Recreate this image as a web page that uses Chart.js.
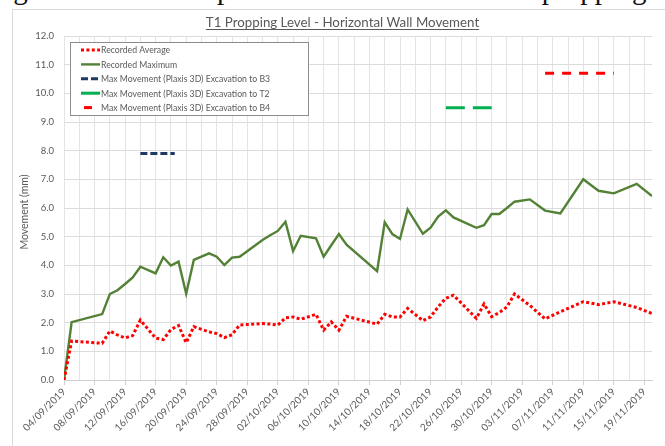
<!DOCTYPE html>
<html><head><meta charset="utf-8">
<script src="https://cdn.jsdelivr.net/npm/chart.js@4.4.0/dist/chart.umd.min.js"></script>
<style>
html,body{margin:0;padding:0;background:#fff;overflow:hidden;}
#wrap{position:relative;width:665px;height:446px;overflow:hidden;background:#fff;}
#cap{position:absolute;left:-11px;top:-27px;font:29px 'Liberation Serif',serif;white-space:nowrap;color:#111;}
#frame{position:absolute;left:12px;top:9px;width:700px;height:500px;border:1px solid #d9d9d9;}
canvas{position:absolute;left:0;top:0;}
</style></head><body>
<div id="wrap">
<div id="cap">Figure 9 Lateral displacement of the wall at T1 propping level</div>
<div id="frame"></div>
<canvas id="c" width="665" height="446"></canvas>
</div>
<script>
// days counted from 04/09/2019
const dayNumbers      = [0, 1, 5, 6, 7, 8, 9, 10, 12, 13, 14, 15, 16, 17, 19, 20, 21, 22, 23, 26, 27, 28, 29, 30, 31, 33, 34, 35, 36, 37, 41, 42, 43, 44, 45, 47, 48, 49, 50, 51, 54, 55, 56, 57, 58, 59, 61, 63, 65, 68, 70, 72, 75, 77];
const recordedMaximum = [0.0, 2.02, 2.30, 3.00, 3.13, 3.35, 3.58, 3.95, 3.72, 4.28, 3.99, 4.13, 3.01, 4.19, 4.42, 4.30, 4.01, 4.27, 4.30, 4.88, 5.05, 5.20, 5.52, 4.50, 5.03, 4.94, 4.30, 4.70, 5.09, 4.72, 3.80, 5.50, 5.09, 4.92, 5.95, 5.10, 5.31, 5.70, 5.92, 5.67, 5.31, 5.40, 5.79, 5.79, 6.00, 6.22, 6.30, 5.91, 5.81, 7.00, 6.60, 6.51, 6.84, 6.42];
const recordedAverage = [0.0, 1.36, 1.28, 1.71, 1.57, 1.47, 1.55, 2.09, 1.46, 1.41, 1.76, 1.90, 1.30, 1.86, 1.68, 1.62, 1.48, 1.58, 1.92, 1.97, 1.95, 1.92, 2.17, 2.20, 2.12, 2.29, 1.74, 2.03, 1.74, 2.22, 1.95, 2.29, 2.20, 2.20, 2.50, 2.07, 2.20, 2.55, 2.85, 2.96, 2.15, 2.65, 2.21, 2.35, 2.55, 3.00, 2.60, 2.13, 2.38, 2.73, 2.63, 2.73, 2.53, 2.32];
const plaxisB3Days = [10, 14.5];
const plaxisB3     = [7.9, 7.9];
const plaxisT2Days = [50, 56];
const plaxisT2     = [9.5, 9.5];
const plaxisB4Days = [63, 72];
const plaxisB4     = [10.7, 10.7];
const tickLabels = ['04/09/2019','08/09/2019','12/09/2019','16/09/2019','20/09/2019','24/09/2019','28/09/2019','02/10/2019','06/10/2019','10/10/2019','14/10/2019','18/10/2019','22/10/2019','26/10/2019','30/10/2019','03/11/2019','07/11/2019','11/11/2019','15/11/2019','19/11/2019'];
const seriesNames = ['Recorded Average','Recorded Maximum','Max Movement (Plaxis 3D) Excavation to B3','Max Movement (Plaxis 3D) Excavation to T2','Max Movement (Plaxis 3D) Excavation to B4'];
const chartTitle = 'T1 Propping Level - Horizontal Wall Movement';
const yTitle = 'Movement (mm)';

const pts = (xs, ys) => xs.map((x, i) => ({x: x, y: ys[i]}));
const FONT = 'Lato, "Open Sans", sans-serif';
const GREY = '#595959';

const legendPlugin = {
  id: 'boxLegend',
  afterDatasetsDraw(chart) {
    const ctx = chart.ctx;
    ctx.save();
    ctx.fillStyle = '#fff';
    ctx.fillRect(70.5, 42.5, 238, 73);
    ctx.strokeStyle = '#8c8c8c';
    ctx.lineWidth = 1;
    ctx.strokeRect(70.5, 42.5, 238, 73);
    const ds = chart.data.datasets;
    ctx.font = '8.7px ' + FONT;
    ctx.textBaseline = 'middle';
    const samples = [[81,100],[81,100],[81,100],[81,100],[84,92]];
    ds.forEach((d, i) => {
      const y = 50 + i * 14.4;
      ctx.beginPath();
      ctx.strokeStyle = d.borderColor;
      ctx.lineWidth = d.borderWidth;
      ctx.setLineDash(i === 4 ? [] : (d.borderDash || []));
      ctx.moveTo(samples[i][0], y);
      ctx.lineTo(samples[i][1], y);
      ctx.stroke();
      ctx.setLineDash([]);
      ctx.fillStyle = GREY;
      ctx.fillText(d.label, 101, y + 0.5);
    });
    ctx.restore();
  }
};

const textPlugin = {
  id: 'texts',
  afterDraw(chart) {
    const ctx = chart.ctx;
    ctx.save();
    ctx.fillStyle = GREY;
    ctx.font = '13.3px ' + FONT;
    ctx.textAlign = 'center';
    ctx.textBaseline = 'alphabetic';
    const cx = 342.5;
    ctx.fillText(chartTitle, cx, 27);
    const w = ctx.measureText(chartTitle).width;
    ctx.strokeStyle = GREY;
    ctx.lineWidth = 1;
    ctx.beginPath();
    ctx.moveTo(cx - w / 2, 29.5);
    ctx.lineTo(cx + w / 2, 29.5);
    ctx.stroke();
    ctx.translate(25, 212);
    ctx.rotate(-Math.PI / 2);
    ctx.font = '10.5px ' + FONT;
    ctx.textBaseline = 'middle';
    ctx.fillText(yTitle, 0, 0);
    ctx.restore();
  }
};

new Chart(document.getElementById('c'), {
  type: 'line',
  data: {
    datasets: [
      {label: seriesNames[0], data: pts(dayNumbers, recordedAverage), borderColor: '#FF0000', borderWidth: 3, borderDash: [3, 2.4], pointRadius: 0, tension: 0},
      {label: seriesNames[1], data: pts(dayNumbers, recordedMaximum), borderColor: '#538135', borderWidth: 2.4, pointRadius: 0, tension: 0},
      {label: seriesNames[2], data: pts(plaxisB3Days, plaxisB3), borderColor: '#1F3864', borderWidth: 3, borderDash: [7, 3], pointRadius: 0},
      {label: seriesNames[3], data: pts(plaxisT2Days, plaxisT2), borderColor: '#00B050', borderWidth: 3, borderDash: [19, 8], pointRadius: 0},
      {label: seriesNames[4], data: pts(plaxisB4Days, plaxisB4), borderColor: '#FF0000', borderWidth: 3, borderDash: [9, 8], pointRadius: 0}
    ]
  },
  options: {
    responsive: false,
    animation: false,
    devicePixelRatio: 1,
    layout: {padding: {top: 36, right: 13, left: 0, bottom: 0}},
    plugins: {legend: {display: false}, title: {display: false}, tooltip: {enabled: false}},
    scales: {
      x: {
        type: 'linear', min: 0, max: 77,
        afterFit(s) { s.height = 66; },
        ticks: {
          stepSize: 2, includeBounds: false, autoSkip: false, minRotation: 45, maxRotation: 45, padding: 1,
          color: GREY, font: {family: FONT, size: 10},
          callback: v => (v % 4 === 0 && tickLabels[v / 4]) ? tickLabels[v / 4] : ''
        },
        grid: {
          color: '#e4e4e4', tickLength: 5,
          tickColor: c => (c.tick && c.tick.value % 4 === 0) ? '#d0d0d0' : 'rgba(0,0,0,0)'
        },
        border: {color: '#d0d0d0'}
      },
      y: {
        min: 0, max: 12,
        afterFit(s) { s.width = 64; },
        ticks: {stepSize: 1, padding: 10, color: GREY, font: {family: FONT, size: 9.5}, callback: v => v.toFixed(1)},
        grid: {color: '#dcdcdc', drawTicks: false},
        border: {display: false}
      }
    }
  },
  plugins: [legendPlugin, textPlugin]
});
</script>
</body></html>
